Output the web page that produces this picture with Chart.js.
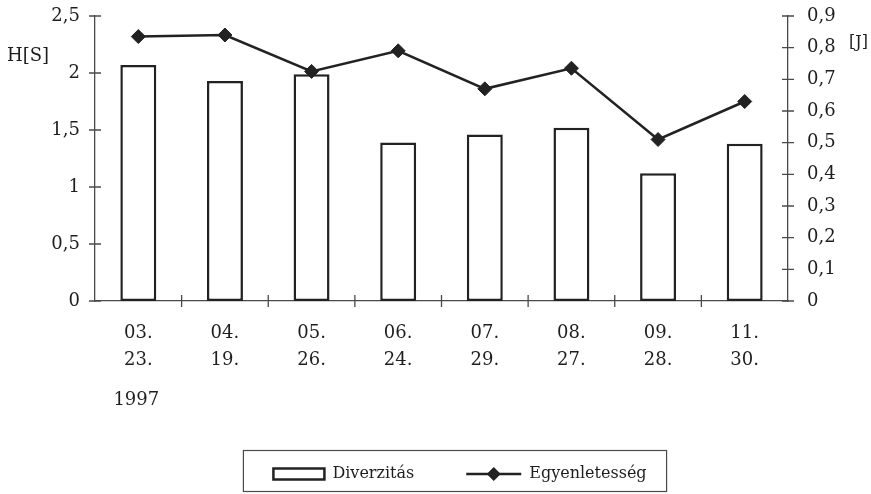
<!DOCTYPE html>
<html>
<head>
<meta charset="utf-8">
<script src="https://cdn.jsdelivr.net/npm/chart.js@4.4.1/dist/chart.umd.min.js"></script>
<style>
  html, body { margin: 0; padding: 0; background: #fff; }
  #wrap { width: 871px; height: 494px; position: relative; }
</style>
</head>
<body>
<div id="wrap"><canvas id="chart"></canvas></div>
<script>
// Sampling dates (month. / day.), 1997
const dates = [
    ['03.', '23.'], ['04.', '19.'], ['05.', '26.'], ['06.', '24.'],
    ['07.', '29.'], ['08.', '27.'], ['09.', '28.'], ['11.', '30.']
];
const yearLabel = '1997';

// Diversity H[S] (left axis) and evenness J (right axis)
const diversity = [2.07, 1.93, 1.99, 1.39, 1.46, 1.52, 1.12, 1.38];
const evenness = [0.835, 0.84, 0.725, 0.79, 0.67, 0.735, 0.51, 0.63];

const leftTicks = [0, 0.5, 1, 1.5, 2, 2.5];
const rightTicks = [0, 0.1, 0.2, 0.3, 0.4, 0.5, 0.6, 0.7, 0.8, 0.9];

const ink = '#222222';
const textColor = '#1e1e1e';
const axisColor = '#4a4a4a';
const serif = '"DejaVu Serif", serif';

// comma decimal separator
function fmt(v) {
    return String(v).replace('.', ',');
}

// Crossing tick marks, axis captions, legend frame and legend line sample
const decorations = {
    id: 'decorations',
    beforeDatasetsDraw(chart) {
        const ctx = chart.ctx;
        const area = chart.chartArea;
        const x = chart.scales.x;
        const yl = chart.scales.y;
        const yr = chart.scales.y1;
        ctx.save();
        ctx.strokeStyle = axisColor;
        ctx.lineWidth = 1.3;
        ctx.beginPath();
        yl.ticks.forEach(t => {
            const py = yl.getPixelForValue(t.value);
            ctx.moveTo(area.left - 6, py);
            ctx.lineTo(area.left + 6, py);
        });
        yr.ticks.forEach(t => {
            const py = yr.getPixelForValue(t.value);
            ctx.moveTo(area.right - 6, py);
            ctx.lineTo(area.right + 6, py);
        });
        const half = (x.getPixelForValue(1) - x.getPixelForValue(0)) / 2;
        for (let i = 1; i < dates.length; i++) {
            const px = x.getPixelForValue(i) - half;
            ctx.moveTo(px, area.bottom - 6);
            ctx.lineTo(px, area.bottom + 6);
        }
        ctx.stroke();
        ctx.restore();
    },
    afterDraw(chart) {
        const ctx = chart.ctx;
        const area = chart.chartArea;
        const x = chart.scales.x;
        const yl = chart.scales.y;
        const yr = chart.scales.y1;
        ctx.save();
        ctx.fillStyle = textColor;
        ctx.textBaseline = 'middle';
        ctx.font = '18px ' + serif;
        ctx.textAlign = 'left';
        ctx.fillText('H[S]', 7, yl.getPixelForValue(2.15));
        ctx.font = '16px ' + serif;
        ctx.fillText('[J]', 849, yr.getPixelForValue(0.815));
        ctx.font = '18px ' + serif;
        ctx.textAlign = 'center';
        ctx.fillText(yearLabel, x.getPixelForValue(0) - 2, area.bottom + 99);

        // legend frame + line/marker sample
        const lg = chart.legend;
        const hb = lg.legendHitBoxes;
        if (hb && hb.length === 2) {
            const left = hb[0].left - 30;
            const right = hb[1].left + hb[1].width + 20;
            ctx.strokeStyle = axisColor;
            ctx.lineWidth = 1.2;
            ctx.strokeRect(left, lg.top + 0.5, right - left, lg.bottom - lg.top - 1);

            const sx = hb[1].left - 4;
            const sy = hb[1].top + hb[1].height / 2;
            const bw = lg.options.labels.boxWidth + 4;
            ctx.strokeStyle = ink;
            ctx.lineWidth = 2.5;
            ctx.beginPath();
            ctx.moveTo(sx, sy);
            ctx.lineTo(sx + bw, sy);
            ctx.stroke();
            ctx.fillStyle = ink;
            ctx.beginPath();
            ctx.moveTo(sx + bw / 2, sy - 7);
            ctx.lineTo(sx + bw / 2 + 7, sy);
            ctx.lineTo(sx + bw / 2, sy + 7);
            ctx.lineTo(sx + bw / 2 - 7, sy);
            ctx.closePath();
            ctx.fill();
        }
        ctx.restore();
    }
};

new Chart(document.getElementById('chart'), {
    type: 'bar',
    data: {
        labels: dates,
        datasets: [{
            type: 'bar',
            label: 'Diverzitás',
            data: diversity,
            yAxisID: 'y',
            backgroundColor: '#ffffff',
            borderColor: ink,
            borderWidth: 2.5,
            borderSkipped: false,
            barPercentage: 0.415,
            categoryPercentage: 1,
            order: 2
        }, {
            type: 'line',
            label: 'Egyenletesség',
            data: evenness,
            yAxisID: 'y1',
            borderColor: ink,
            borderWidth: 2.5,
            backgroundColor: ink,
            pointStyle: 'rectRot',
            pointRadius: 7,
            pointBackgroundColor: ink,
            pointBorderColor: ink,
            pointBorderWidth: 1,
            tension: 0,
            order: 1
        }]
    },
    options: {
        responsive: true,
        maintainAspectRatio: false,
        animation: false,
        layout: {
            padding: { top: 16, left: 49, right: 0, bottom: 2 }
        },
        plugins: {
            tooltip: { enabled: false },
            legend: {
                position: 'bottom',
                labels: {
                    color: textColor,
                    font: { family: serif, size: 16 },
                    boxWidth: 51,
                    boxHeight: 11,
                    padding: 16,
                    generateLabels: function(chart) {
                        return [{
                            text: 'Diverzitás\u2003\u2003\u2002',
                            fillStyle: '#ffffff',
                            strokeStyle: ink,
                            lineWidth: 2.5,
                            fontColor: textColor,
                            datasetIndex: 0
                        }, {
                            text: 'Egyenletesség',
                            fillStyle: 'rgba(0,0,0,0)',
                            strokeStyle: 'rgba(0,0,0,0)',
                            lineWidth: 0,
                            fontColor: textColor,
                            datasetIndex: 1
                        }];
                    }
                }
            }
        },
        scales: {
            x: {
                grid: { display: false, drawTicks: false },
                border: { display: true, color: axisColor, width: 1.3 },
                ticks: {
                    color: textColor,
                    font: { family: serif, size: 18, lineHeight: 1.5 },
                    padding: 19,
                    maxRotation: 0,
                    autoSkip: false
                },
                afterFit: s => { s.height = 149; }
            },
            y: {
                position: 'left',
                min: 0,
                max: 2.5,
                afterBuildTicks: s => { s.ticks = leftTicks.map(v => ({ value: v })); },
                grid: { display: false, drawTicks: false },
                border: { display: true, color: axisColor, width: 1.3 },
                ticks: {
                    color: textColor,
                    font: { family: serif, size: 18 },
                    padding: 15,
                    callback: v => fmt(v)
                },
                afterFit: s => { s.width = 46; s.paddingTop = 0; s.paddingBottom = 0; }
            },
            y1: {
                position: 'right',
                min: 0,
                max: 0.9,
                afterBuildTicks: s => { s.ticks = rightTicks.map(v => ({ value: v })); },
                grid: { display: false, drawTicks: false },
                border: { display: true, color: axisColor, width: 1.3 },
                ticks: {
                    color: textColor,
                    font: { family: serif, size: 18 },
                    padding: 19,
                    callback: v => fmt(v)
                },
                afterFit: s => { s.width = 83; s.paddingTop = 0; s.paddingBottom = 0; }
            }
        }
    },
    plugins: [decorations]
});
</script>
</body>
</html>
